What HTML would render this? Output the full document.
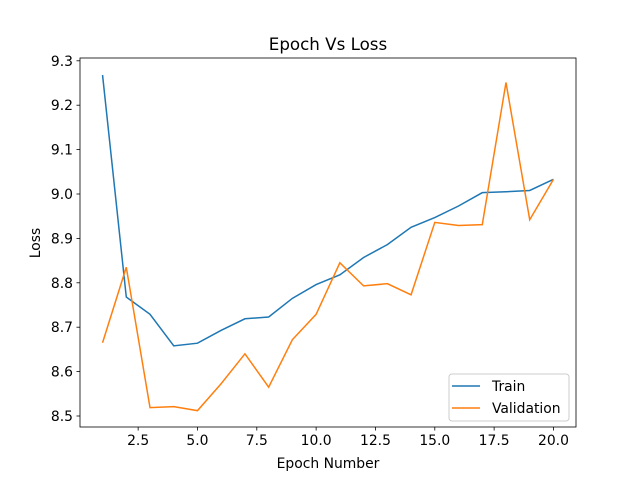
<!DOCTYPE html>
<html><head><meta charset="utf-8"><style>body{margin:0;background:#fff}svg{display:block}text{font-family:"DejaVu Sans","Liberation Sans",sans-serif}</style></head>
<body>
<svg id="chart" width="640" height="480"></svg>
<script>
const epochs=[1,2,3,4,5,6,7,8,9,10,11,12,13,14,15,16,17,18,19,20];
const trainLoss=[9.268,8.768,8.729,8.658,8.664,8.693,8.719,8.723,8.765,8.796,8.818,8.857,8.886,8.925,8.947,8.973,9.003,9.005,9.008,9.033];
const valLoss=[8.665,8.835,8.519,8.521,8.512,8.573,8.640,8.565,8.672,8.729,8.845,8.793,8.798,8.773,8.936,8.929,8.931,9.251,8.942,9.033];
const xTicks=[2.5,5.0,7.5,10.0,12.5,15.0,17.5,20.0];
const yTicks=[8.5,8.6,8.7,8.8,8.9,9.0,9.1,9.2,9.3];
const NS="http://www.w3.org/2000/svg";
const svg=document.getElementById('chart');
const L=80,R=576,T=58,B=427;
const xs=v=>L+(v-0.05)*(R-L)/20.9;
const ys=v=>416-(v-8.5)*444;
function mk(tag,attrs,parent){const e=document.createElementNS(NS,tag);for(const k in attrs)e.setAttribute(k,attrs[k]);(parent||svg).appendChild(e);return e;}
const frame=mk('rect',{x:L,y:T,width:R-L,height:B-T,fill:'none',stroke:'#000','stroke-width':0.8});


xTicks.forEach(t=>{const x=xs(t);
 const l=mk('line',{x1:x,x2:x,y1:B,y2:B+3.5,stroke:'#000','stroke-width':0.8});
 
 
 const tx=mk('text',{x:x,y:B+18,'font-size':13.9,'text-anchor':'middle'});tx.textContent=t.toFixed(1);
 
 });
yTicks.forEach(t=>{const y=ys(t);
 const l=mk('line',{x1:L-3.5,x2:L,y1:y,y2:y,stroke:'#000','stroke-width':0.8});
 
 
 const tx=mk('text',{x:L-7,y:y+5,'font-size':13.9,'text-anchor':'end'});tx.textContent=t.toFixed(1);
 
 });
function line(vals,color,name){const p=mk('polyline',{points:vals.map((v,i)=>xs(epochs[i])+','+ys(v)).join(' '),fill:'none',stroke:color,'stroke-width':1.5});
 
 }
line(trainLoss,'#1f77b4','train-line');
line(valLoss,'#ff7f0e','validation-line');
const title=mk('text',{x:328,y:50,'font-size':16.7,'text-anchor':'middle'});title.textContent='Epoch Vs Loss';


const xl=mk('text',{x:328,y:468,'font-size':13.9,'text-anchor':'middle'});xl.textContent='Epoch Number';


const yl=mk('text',{x:0,y:0,'font-size':13.9,'text-anchor':'middle',transform:'translate(40,243) rotate(-90)'});yl.textContent='Loss';


const lg=mk('g',{});


mk('rect',{x:449,y:374,width:120,height:47,rx:3,fill:'#fff',stroke:'#ccc','stroke-width':1},lg);
[['Train','#1f77b4',386],['Validation','#ff7f0e',408]].forEach(([n,c,y])=>{
 const le=mk('g',{},lg);
 
 
 mk('line',{x1:452,x2:480,y1:y,y2:y,stroke:c,'stroke-width':1.5},le);
 const t=mk('text',{x:492,y:y+5,'font-size':13.9},le);t.textContent=n;});
</script>
</body></html>
